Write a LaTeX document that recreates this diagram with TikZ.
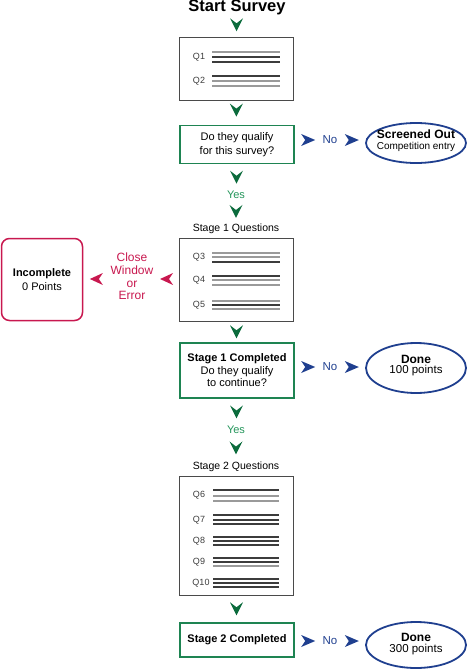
\documentclass[tikz,border=0pt]{standalone}
\usepackage{fontspec}
\setmainfont{Liberation Sans}
\usetikzlibrary{calc,shapes.geometric}
\definecolor{grn}{HTML}{1E8452}
\definecolor{dgrn}{HTML}{0B6B3C}
\definecolor{ygrn}{HTML}{23955A}
\definecolor{navy}{HTML}{1F3F8F}
\definecolor{crim}{HTML}{C8184F}
\definecolor{boxgray}{HTML}{4A4A4A}
\definecolor{dk}{HTML}{3C3C3C}
\definecolor{lg}{HTML}{9A9A9A}
\tikzset{
  chevd/.pic={\fill[#1] (-6.5,-6.5) -- (0,-1.5) -- (6.5,-6.5) -- (0,6.5) -- cycle;},
  chevr/.pic={\fill[#1] (-7,-6) -- (7,0) -- (-7,6) -- (-3,0) -- cycle;},
  chevl/.pic={\fill[#1] (6.5,-6) -- (-6.5,0) -- (6.5,6) -- (2.5,0) -- cycle;},
  qbox/.style={draw=boxgray, line width=0.9pt, minimum width=114pt, inner sep=0pt},
  gbox/.style={draw=grn, line width=1.9pt, minimum width=114pt, inner sep=0pt, align=center, text=black},
  oval/.style={ellipse, draw=navy, line width=1.8pt, minimum width=100pt, inner sep=0pt},
  qlab/.style={font=\fontsize{9}{10}\selectfont, text=dk, inner sep=0pt, text height=6.4pt, text depth=0pt},
  ql/.style={line width=1.2pt},
  nolab/.style={font=\fontsize{11.5}{13}\selectfont, text=navy, inner sep=1pt},
  yeslab/.style={font=\fontsize{11}{13}\selectfont, text=ygrn, inner sep=1pt},
  stagelab/.style={font=\fontsize{10.5}{12}\selectfont, inner sep=1pt},
}
\begin{document}
\begin{tikzpicture}[x=1pt,y=-1pt]
\useasboundingbox (0,0) rectangle (467,670);

% title
\node[font=\bfseries\fontsize{16.5}{18}\selectfont, inner sep=0pt] (start) at (237,7.5) {Start Survey};

% box 1
\node[qbox, minimum height=63pt] (q1) at (236,68.5) {};
\node[qlab] (lq1) at (199,56) {Q1};
\node[qlab] (lq2) at (199,80) {Q2};
\foreach \y/\c in {52/lg,57/dk,62/dk,76/dk,81/lg,86/lg}
  \draw[ql,\c] (212,\y) -- (280,\y);
\pic at ($(start.south)!0.45!(q1.north)$) {chevd=dgrn};

% decision 1
\node[gbox, minimum height=38pt, font=\fontsize{11}{14}\selectfont] (g1) at (237,144.5) {Do they qualify\\for this survey?};
\pic at ($(q1.south)!0.4!(g1.north)$) {chevd=dgrn};
\node[oval, minimum height=40pt] (scr) at (416,143) {};
\node[font=\bfseries\fontsize{12}{13}\selectfont, inner sep=0pt] (scrt) at (416,134.5) {Screened Out};
\node[font=\fontsize{10}{11}\selectfont, inner sep=0pt] (scrs) at (416,146.5) {Competition entry};
\node[nolab] (no1) at (330,140) {No};
\pic at ($(g1.east |- no1)!0.5!(no1.west)$) {chevr=navy};
\pic at ($(no1.east)!0.5!(scr.west |- no1)$) {chevr=navy};

\node[yeslab] (yes1) at (236,195) {Yes};
\pic at ($(g1.south)!0.5!(yes1.north)$) {chevd=dgrn};
\node[stagelab] (st1) at (236,229) {Stage 1 Questions};
\pic at ($(yes1.south)!0.5!(st1.north)$) {chevd=dgrn};

% box 2
\node[qbox, minimum height=83pt] (q2) at (236,279.5) {};
\node[qlab] (lq3) at (199,256) {Q3};
\node[qlab] (lq4) at (199,279) {Q4};
\node[qlab] (lq5) at (199,304) {Q5};
\foreach \y/\c in {253/lg,257/lg,262/dk,276/dk,280/lg,285/lg,301/lg,305/dk,309/lg}
  \draw[ql,\c] (212,\y) -- (280,\y);

% incomplete
\node[draw=crim, line width=1.5pt, rounded corners=8pt, minimum width=81pt, minimum height=82pt, align=center, font=\fontsize{11}{14}\selectfont, inner sep=0pt] (inc) at (42,279.5) {\textbf{Incomplete}\\0 Points};
\node[font=\fontsize{12}{12.8}\selectfont, text=crim, align=center, inner sep=1pt] (cwe) at (132,276.5) {Close\\Window\\or\\Error};
\pic at ($(q2.west |- 0,279)!0.5!(cwe.east |- 0,279)$) {chevl=crim};
\pic at ($(inc.east |- 0,279)!0.5!(cwe.west |- 0,279)$) {chevl=crim};

% decision 2
\node[gbox, minimum height=55pt, font=\fontsize{11}{12.5}\selectfont] (g2) at (237,370.5) {\textbf{Stage 1 Completed}\\Do they qualify\\to continue?};
\pic at ($(q2.south)!0.5!(g2.north)$) {chevd=dgrn};
\node[oval, minimum height=50pt] (d1) at (416,368) {};
\node[font=\bfseries\fontsize{12}{13}\selectfont, inner sep=0pt] (d1t) at (416,359) {Done};
\node[font=\fontsize{11.5}{13}\selectfont, inner sep=0pt] (d1s) at (416,370.5) {100 points};
\node[nolab] (no2) at (330,367) {No};
\pic at ($(g2.east |- no2)!0.5!(no2.west)$) {chevr=navy};
\pic at ($(no2.east)!0.5!(d1.west |- no2)$) {chevr=navy};

\node[yeslab] (yes2) at (236,430) {Yes};
\pic at ($(g2.south)!0.5!(yes2.north)$) {chevd=dgrn};
\node[stagelab] (st2) at (236,467) {Stage 2 Questions};
\pic at ($(yes2.south)!0.5!(st2.north)$) {chevd=dgrn};

% box 3
\node[qbox, minimum height=119pt] (q3) at (236,535.5) {};
\node[qlab] (lq6) at (199,494) {Q6};
\node[qlab] (lq7) at (199,519) {Q7};
\node[qlab] (lq8) at (199,540) {Q8};
\node[qlab] (lq9) at (199,561) {Q9};
\node[qlab] (lq10) at (201,582) {Q10};
\foreach \y/\c in {490/dk,496/lg,501/lg,515/dk,520/dk,524/dk,537/dk,541/dk,545/dk,558/dk,562/dk,566/lg,579/dk,583/dk,587/dk}
  \draw[ql,\c] (213,\y) -- (279,\y);

% decision 3
\node[gbox, minimum height=34pt, font=\bfseries\fontsize{11}{13}\selectfont] (g3) at (237,640) {\raisebox{1.5pt}{Stage 2 Completed}};
\pic at ($(q3.south)!0.5!(g3.north)$) {chevd=dgrn};
\node[oval, minimum height=46pt] (d2) at (416,645) {};
\node[font=\bfseries\fontsize{12}{13}\selectfont, inner sep=0pt] (d2t) at (416,637.5) {Done};
\node[font=\fontsize{11.5}{13}\selectfont, inner sep=0pt] (d2s) at (416,650) {300 points};
\node[nolab] (no3) at (330,641) {No};
\pic at ($(g3.east |- no3)!0.5!(no3.west)$) {chevr=navy};
\pic at ($(no3.east)!0.5!(d2.west |- no3)$) {chevr=navy};
\end{tikzpicture}
\end{document}
